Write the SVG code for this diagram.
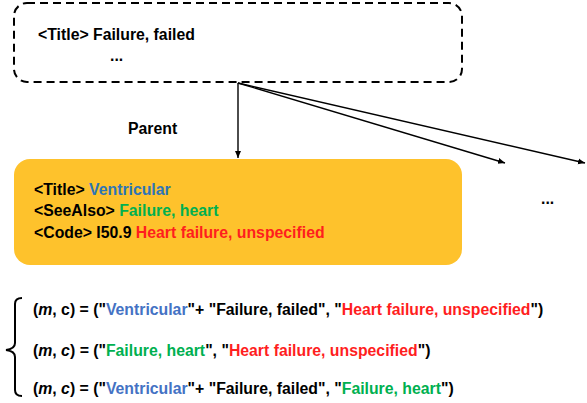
<svg xmlns="http://www.w3.org/2000/svg" width="587" height="403" viewBox="0 0 587 403">
<defs>
<marker id="ah" markerWidth="8" markerHeight="8" refX="7" refY="4" orient="auto" markerUnits="userSpaceOnUse">
<path d="M0,1 L7,4 L0,7 Z" fill="#000"/>
</marker>
<style>
text{font-family:"Liberation Sans",Arial,sans-serif;font-weight:bold;font-size:15.8px;fill:#000}
.b{fill:#2E75B6}.b2{fill:#4472C4}.g{fill:#00B050}.r{fill:#FF1E1E}
.it{font-style:italic}
.conn{stroke:#000;stroke-width:1.4;fill:none}
</style>
</defs>
<rect width="587" height="403" fill="#fff"/>
<g id="node-failure">
<rect x="14" y="3" width="448" height="79" rx="13" fill="#fff" stroke="#000" stroke-width="2" stroke-dasharray="8,5"/>
<text x="38" y="40">&lt;Title&gt; Failure, failed</text>
<text x="110" y="61">...</text>
</g>
<g id="label-parent">
<text x="128" y="134">Parent</text>
</g>
<g id="node-ventricular">
<rect x="14" y="159" width="448" height="106" rx="16" fill="#FEC22C"/>
<text x="34" y="195">&lt;Title&gt; <tspan class="b">Ventricular</tspan></text>
<text x="34" y="216">&lt;SeeAlso&gt; <tspan class="g">Failure, heart</tspan></text>
<text x="34" y="238">&lt;Code&gt; I50.9 <tspan class="r">Heart failure, unspecified</tspan></text>
</g>
<g id="node-more">
<text x="541" y="204">...</text>
</g>
<g id="connectors">
<line class="conn" x1="238" y1="83" x2="238" y2="158" marker-end="url(#ah)"/>
<line class="conn" x1="238" y1="83" x2="505" y2="163" marker-end="url(#ah)"/>
<line class="conn" x1="238" y1="83" x2="585" y2="163" marker-end="url(#ah)"/>
</g>
<g id="equations">
<path d="M22,298 Q15,298 15,304 L15,343 Q15,349 6,350 Q15,351 15,357 L15,390 Q15,396 22,396" fill="none" stroke="#000" stroke-width="2"/>
<text x="33" y="315">(<tspan class="it">m</tspan>, c) = ("<tspan class="b2">Ventricular</tspan>"+ "Failure, failed", "<tspan class="r">Heart failure, unspecified</tspan>")</text>
<text x="33" y="356">(<tspan class="it">m</tspan>, <tspan class="it">c</tspan>) <tspan class="it">=</tspan> ("<tspan class="g">Failure, heart</tspan>", "<tspan class="r">Heart failure, unspecified</tspan>")</text>
<text x="33" y="394">(<tspan class="it">m</tspan>, <tspan class="it">c</tspan>) = ("<tspan class="b2">Ventricular</tspan>"+ "Failure, failed", "<tspan class="g">Failure, heart</tspan>")</text>
</g>
</svg>
